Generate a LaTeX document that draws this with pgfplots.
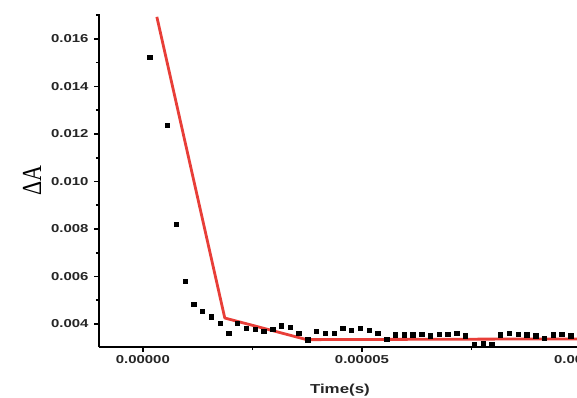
\documentclass[border=0pt]{standalone}
\usepackage{pgfplots}
\pgfplotsset{compat=1.18}
\usepackage{fontspec}
\setmainfont{Liberation Sans}
\newfontfamily\tickfont{Liberation Sans}[FakeStretch=1.3]
\newfontfamily\labelserif{Liberation Serif}
\definecolor{fitred}{RGB}{232,62,56}
\begin{document}
\begin{tikzpicture}
\begin{axis}[
  scale only axis, width=504pt, height=333pt,
  xmin=-0.00001, xmax=0.000105, ymin=0.00303, ymax=0.01705,
  axis x line=bottom, axis y line=left,
  axis line style={line width=2.2pt, -},
  xtick pos=bottom, ytick pos=left,
  xtick={0,0.00005,0.0001}, minor xtick={0.000025,0.000075},
  ytick={0.004,0.006,0.008,0.010,0.012,0.014,0.016},
  minor ytick={0.005,0.007,0.009,0.011,0.013,0.015,0.017},
  tick align=outside, major tick length=5pt, minor tick length=3pt,
  tick style={line width=1.6pt, black},
  scaled x ticks=false, scaled y ticks=false,
  xticklabel style={/pgf/number format/.cd, fixed, fixed zerofill, precision=5},
  yticklabel style={xshift=-2pt, /pgf/number format/.cd, fixed, fixed zerofill, precision=3},
  /pgf/number format/assume math mode=true,
  tick label style={font=\tickfont\bfseries\fontsize{11.5}{13}\selectfont, text=black!85},
  clip=false,
  xlabel={Time(s)},
  xlabel style={font=\tickfont\bfseries\fontsize{13}{15}\selectfont, at={(axis description cs:0.478,-0.102)}, anchor=north, text=black!85},
  ylabel={\scalebox{1}[1.25]{ΔA}},
  ylabel style={font=\labelserif\fontsize{22}{26}\selectfont, at={(axis description cs:-0.133,0.5)}, anchor=center},
]
\addplot[only marks, mark=square*, mark size=2.2pt, black] coordinates {
(1.6e-6,0.01524) (5.6e-6,0.01238) (7.6e-6,0.00821) (9.6e-6,0.00581)
(11.6e-6,0.00484) (13.6e-6,0.00455) (15.6e-6,0.00430) (17.6e-6,0.00404)
(19.6e-6,0.00362) (21.6e-6,0.00404) (23.6e-6,0.00383) (25.6e-6,0.00379)
(27.6e-6,0.00370) (29.6e-6,0.00379) (31.6e-6,0.00392) (33.6e-6,0.00387)
(35.6e-6,0.00362) (37.6e-6,0.00333) (39.6e-6,0.00370) (41.6e-6,0.00362)
(43.6e-6,0.00362) (45.6e-6,0.00383) (47.6e-6,0.00375) (49.6e-6,0.00383)
(51.6e-6,0.00373) (53.6e-6,0.00362) (55.6e-6,0.00337) (57.6e-6,0.00354)
(59.6e-6,0.00354) (61.6e-6,0.00354) (63.6e-6,0.00358) (65.6e-6,0.00350)
(67.6e-6,0.00358) (69.6e-6,0.00358) (71.6e-6,0.00362) (73.6e-6,0.00350)
(75.6e-6,0.00316) (77.6e-6,0.00320) (79.6e-6,0.00316) (81.6e-6,0.00354)
(83.6e-6,0.00362) (85.6e-6,0.00358) (87.6e-6,0.00354) (89.6e-6,0.00350)
(91.6e-6,0.00341) (93.6e-6,0.00354) (95.6e-6,0.00358) (97.6e-6,0.00350)
};
\addplot[fitred, line width=2.8pt, line join=round] coordinates {
(3.2e-6,0.01693) (18.7e-6,0.00425) (37.4e-6,0.00334) (56e-6,0.00335)
(75e-6,0.00336) (93.6e-6,0.00337) (104e-6,0.00337)
};
\end{axis}
\pgfresetboundingbox
\path[use as bounding box] ([xshift=-99pt,yshift=-50pt]current axis.south west) rectangle ([xshift=478pt,yshift=347pt]current axis.south west);
\end{tikzpicture}
\end{document}
